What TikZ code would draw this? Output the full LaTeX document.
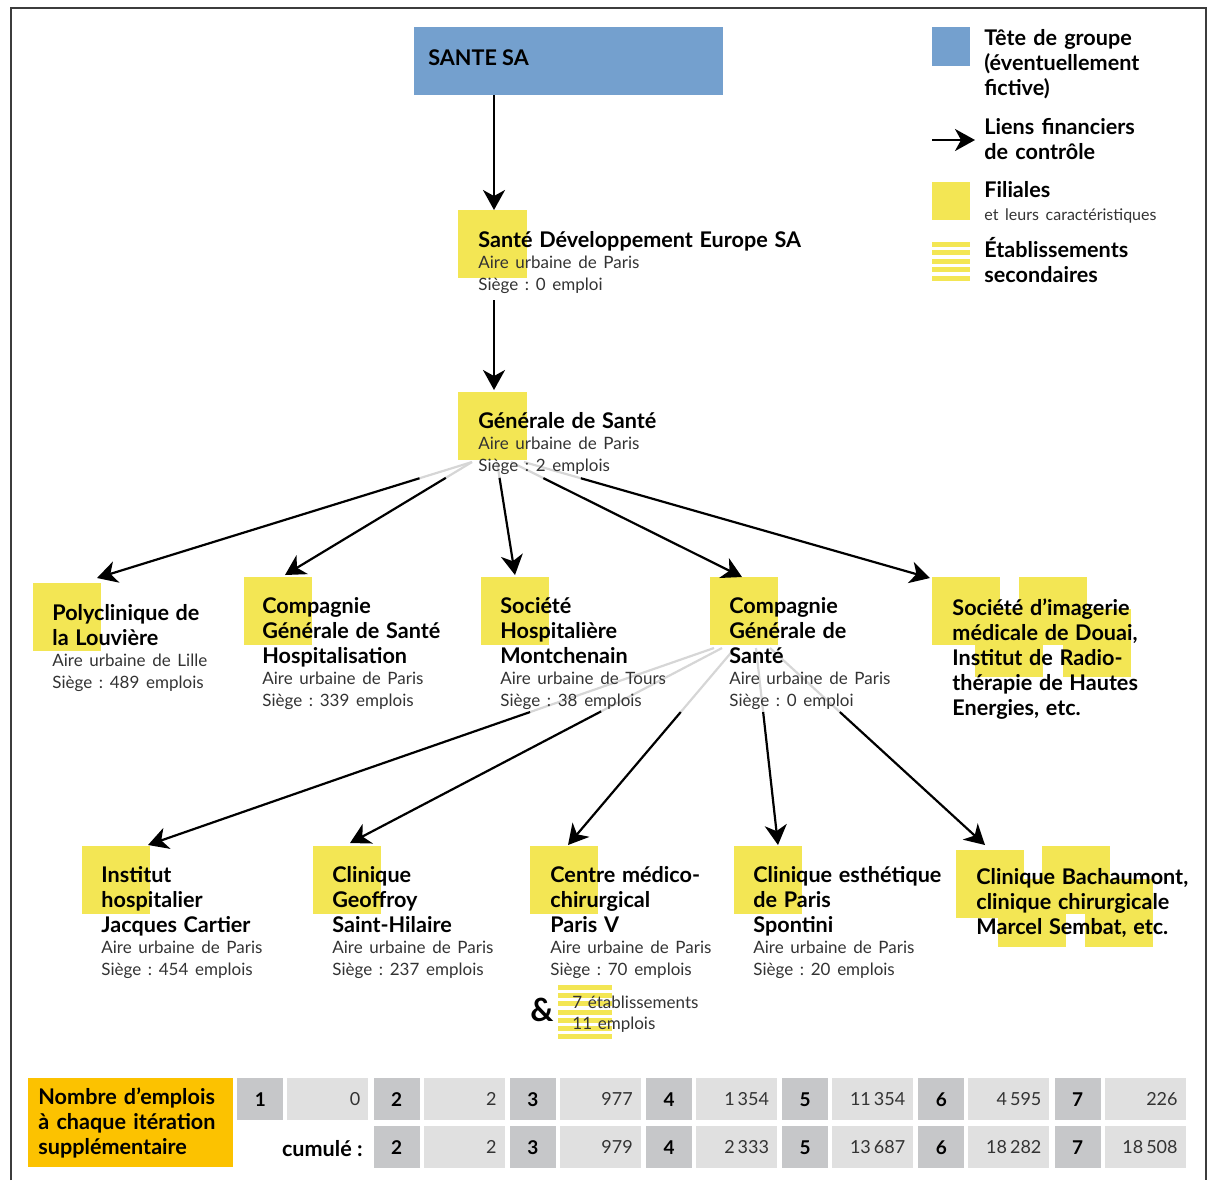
\documentclass[tikz,border=0pt]{standalone}
\usepackage{fontspec}
\setmainfont{Lato}
\usetikzlibrary{arrows.meta,calc}
\frenchspacing

\definecolor{headblue}{RGB}{116,160,206}
\definecolor{filyellow}{RGB}{243,230,84}
\definecolor{iterorange}{RGB}{252,194,0}
\definecolor{celldark}{RGB}{198,199,201}
\definecolor{celllight}{RGB}{224,224,224}
\definecolor{linkgray}{RGB}{214,214,214}
\definecolor{framegray}{RGB}{60,60,60}
\definecolor{txtgray}{RGB}{51,51,51}

\newcommand\namefont{\fontsize{10.8}{12.5}\selectfont\bfseries}
\newcommand\infofont{\fontsize{8.5}{10.75}\selectfont\color{txtgray}}
\newcommand\firm[2]{{\namefont #1\par}{\infofont #2\par}}

\tikzset{
  firmtxt/.style={anchor=base west, inner sep=0pt, text width=220pt, align=left},
  link/.style={line width=1.1pt, -{Stealth[length=10pt,width=11pt,inset=3pt]}},
  graylink/.style={line width=1.1pt, draw=linkgray},
  darkcell/.style={anchor=north west, fill=celldark, minimum width=23pt, minimum height=21pt,
    inner sep=0pt, font=\fontsize{9.5}{11}\selectfont\bfseries},
  lightcell/.style={anchor=north west, fill=celllight, text width=32.5pt, minimum height=21pt,
    inner xsep=4pt, inner ysep=0pt, align=right, font=\fontsize{9}{11}\selectfont\color{txtgray}}
}

\begin{document}
\begin{tikzpicture}[x=0.5pt,y=-0.5pt]
  \useasboundingbox (0,0) rectangle (1208,1180);
  % Frame
  \draw[framegray, line width=0.75pt] (11,1180) -- (11,8) -- (1206,8) -- (1206,1180);

  % Head of group
  \node[anchor=north west, fill=headblue, minimum width=154.5pt, minimum height=34pt, inner sep=0pt]
    (sante) at (414,27) {};
  \node[anchor=base west, inner sep=0pt, font=\namefont] (sante-txt) at (428,65) {SANTE SA};

  % Subsidiaries (yellow squares)
  \fill[filyellow] (458,210) rectangle ++(69,68);
  \fill[filyellow] (458,392) rectangle ++(69,68);
  \fill[filyellow] (33,583) rectangle ++(68,68);
  \fill[filyellow] (244,577) rectangle ++(68,68);
  \fill[filyellow] (481,577) rectangle ++(68,68);
  \fill[filyellow] (710,577) rectangle ++(68,68);
  \foreach \sx/\sy in {932/577,1019/577,975/609,1063/609}
    \fill[filyellow] (\sx,\sy) rectangle ++(68,68);
  \fill[filyellow] (82,846) rectangle ++(68,68);
  \fill[filyellow] (313,846) rectangle ++(68,68);
  \fill[filyellow] (530,846) rectangle ++(68,68);
  \fill[filyellow] (734,846) rectangle ++(68,68);
  \foreach \sx/\sy in {956/850,1042/846,998/879,1085/879}
    \fill[filyellow] (\sx,\sy) rectangle ++(68,68);
  % Secondary establishments
  \foreach \k in {0,...,6}
    \fill[filyellow] (558,985+\k*8.2) rectangle ++(54,5);

  % Link ends
  \coordinate (sante-out) at (494,95);
  \coordinate (sde-in) at (494,210);
  \coordinate (sde-out) at (494,300);
  \coordinate (gs-in) at (494,390);
  \coordinate (gs1) at (472,462);  \coordinate (poly-in) at (97,578);
  \coordinate (gs2) at (472,462);  \coordinate (cgsh-in) at (285,575);
  \coordinate (gs3) at (497,462);  \coordinate (sh-in) at (515,575);
  \coordinate (gs4) at (511,462);  \coordinate (cgs-in) at (742,577);
  \coordinate (gs5) at (524,462);  \coordinate (sdi-in) at (930,578);
  \coordinate (cgs1) at (714,648); \coordinate (ihjc-in) at (148,845);
  \coordinate (cgs2) at (722,648); \coordinate (geof-in) at (350,843);
  \coordinate (cgs3) at (735,648); \coordinate (cmc-in) at (568,845);
  \coordinate (cgs4) at (756,648); \coordinate (ceps-in) at (778,845);
  \coordinate (cgs5) at (770,648); \coordinate (cbach-in) at (985,845);

  % Financial links
  \draw[link] (sante-out) -- (sde-in);
  \draw[link] (sde-out) -- (gs-in);
  \foreach \o/\t in {gs1/poly,gs2/cgsh,gs3/sh,gs4/cgs,gs5/sdi}{
    \draw[graylink] (\o) -- ($(\o)!0.14!(\t-in)$);
    \draw[link] ($(\o)!0.14!(\t-in)$) -- (\t-in);
  }
  \foreach \o/\t in {cgs1/ihjc,cgs2/geof,cgs3/cmc,cgs4/ceps,cgs5/cbach}{
    \draw[graylink] (\o) -- ($(\o)!0.325!(\t-in)$);
    \draw[link] ($(\o)!0.325!(\t-in)$) -- (\t-in);
  }

  % Firm texts
  \node[firmtxt] (sde) at (478,247)
    {\firm{Santé Développement Europe SA}{Aire urbaine de Paris\\Siège : 0 emploi}};
  \node[firmtxt] (gs) at (478,428)
    {\firm{Générale de Santé}{Aire urbaine de Paris\\Siège : 2 emplois}};
  \node[firmtxt] (poly) at (52,620)
    {\firm{Polyclinique de\\la Louvière}{Aire urbaine de Lille\\Siège : 489 emplois}};
  \node[firmtxt] (cgsh) at (262,613)
    {\firm{Compagnie\\Générale de Santé\\Hospitalisation}{Aire urbaine de Paris\\Siège : 339 emplois}};
  \node[firmtxt] (sh) at (500,613)
    {\firm{Société\\Hospitalière\\Montchenain}{Aire urbaine de Tours\\Siège : 38 emplois}};
  \node[firmtxt] (cgs) at (729,613)
    {\firm{Compagnie\\Générale de\\Santé}{Aire urbaine de Paris\\Siège : 0 emploi}};
  \node[firmtxt] (sdi) at (952,615)
    {\firm{Société d’imagerie\\médicale de Douai,\\Institut de Radio-\\thérapie de Hautes\\Energies, etc.}{}};
  \node[firmtxt] (ihjc) at (101,882)
    {\firm{Institut\\hospitalier\\Jacques Cartier}{Aire urbaine de Paris\\Siège : 454 emplois}};
  \node[firmtxt] (geof) at (332,882)
    {\firm{Clinique\\Geoffroy\\Saint-Hilaire}{Aire urbaine de Paris\\Siège : 237 emplois}};
  \node[firmtxt] (cmc) at (550,882)
    {\firm{Centre médico-\\chirurgical\\Paris V}{Aire urbaine de Paris\\Siège : 70 emplois}};
  \node[firmtxt] (ceps) at (753,882)
    {\firm{Clinique esthétique\\de Paris\\Spontini}{Aire urbaine de Paris\\Siège : 20 emplois}};
  \node[firmtxt] (cbach) at (976,884)
    {\firm{Clinique Bachaumont,\\clinique chirurgicale\\Marcel Sembat, etc.}{}};
  \node[font=\fontsize{16}{16}\selectfont\bfseries, inner sep=0pt] (amp) at (542,1010) {\&};
  \node[firmtxt, font=\infofont] (etab) at (572,1008) {7 établissements\\11 emplois};

  % Legend
  \fill[headblue] (932,27) rectangle ++(38,39);
  \node[firmtxt, font=\namefont] (leg-head) at (984,45) {Tête de groupe\\(éventuellement\\fictive)};
  \coordinate (leg-a) at (932,140);
  \coordinate (leg-b) at (975,140);
  \draw[link] (leg-a) -- (leg-b);
  \node[firmtxt, font=\namefont] (leg-link) at (984,134) {Liens financiers\\de contrôle};
  \fill[filyellow] (932,182) rectangle ++(38,38);
  \node[firmtxt] (leg-fil) at (984,197)
    {{\namefont Filiales\par}{\fontsize{8}{11.5}\selectfont\color{txtgray}et leurs caractéristiques\par}};
  \foreach \k in {0,...,4}
    \fill[filyellow] (932,242+\k*8.4) rectangle ++(38,5);
  \node[firmtxt, font=\namefont] (leg-etab) at (984,257) {Établissements\\secondaires};

  % Iterations table
  \node[anchor=north west, fill=iterorange, minimum width=102.5pt, minimum height=44.5pt,
    text width=92.5pt, inner xsep=5pt, inner ysep=0pt, align=left, font=\namefont] (iter) at (28,1078)
    {Nombre d’emplois\\à chaque itération\\supplémentaire};
  \foreach \i/\v in {1/0,2/2,3/977,4/{1\,354},5/{11\,354},6/{4\,595},7/226}{
    \node[darkcell] (it\i) at (237+\i*136.2-136.2,1078) {\i};
    \node[lightcell] (iv\i) at (287+\i*136.2-136.2,1078) {\v};
  }
  \node[anchor=east, inner sep=0pt, font=\namefont] (cum) at (363,1149) {cumulé :};
  \foreach \i/\v in {2/2,3/979,4/{2\,333},5/{13\,687},6/{18\,282},7/{18\,508}}{
    \node[darkcell] (ct\i) at (237+\i*136.2-136.2,1126) {\i};
    \node[lightcell] (cv\i) at (287+\i*136.2-136.2,1126) {\v};
  }
\end{tikzpicture}
\end{document}
